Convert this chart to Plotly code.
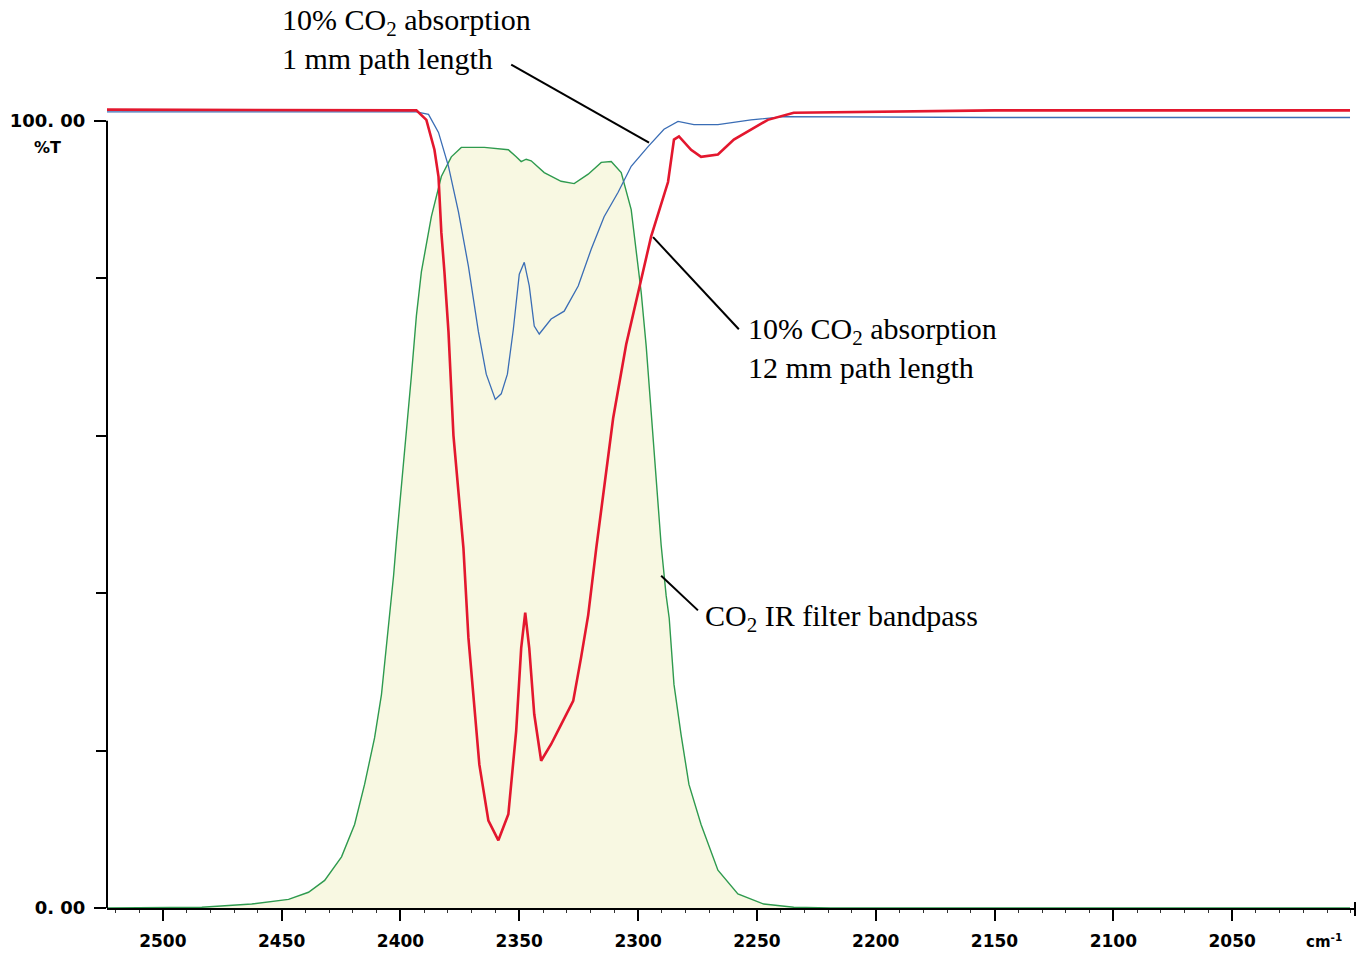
import plotly.graph_objects as go

# ---- data (wavenumber cm^-1, %T) ----
wn_12mm = [2523.5, 2393.3, 2389.1, 2385.7, 2384.0, 2382.8, 2381.5, 2379.8, 2377.7, 2373.5,
           2371.4, 2369.3, 2366.8, 2363.0, 2358.8, 2354.6, 2351.3, 2349.2, 2347.5, 2345.8,
           2343.7, 2340.8, 2336.6, 2332.4, 2327.3, 2324.0, 2321.0, 2317.6, 2314.3, 2310.5,
           2305.0, 2298.7, 2294.5, 2287.4, 2284.9, 2282.8, 2277.7, 2273.5, 2266.4, 2259.7,
           2245.4, 2234.5, 2150.0, 2000.4]
t_12mm = [101.4, 101.3, 100.1, 96.3, 92.9, 85.8, 80.8, 73.2, 60.0, 45.7,
          34.3, 26.7, 18.2, 11.1, 8.6, 11.9, 22.5, 33.0, 37.5, 33.0,
          24.6, 18.7, 20.8, 23.3, 26.3, 31.8, 37.2, 45.7, 53.3, 62.2,
          71.6, 79.9, 85.3, 92.2, 97.6, 98.0, 96.3, 95.4, 95.7, 97.6,
          100.1, 101.0, 101.3, 101.3]

wn_1mm = [2523.5, 2393.3, 2388.2, 2384.0, 2379.8, 2375.6, 2371.4, 2367.2, 2363.9, 2360.1,
          2357.6, 2355.0, 2352.5, 2350.0, 2347.9, 2345.8, 2343.7, 2341.6, 2336.6, 2331.1,
          2325.2, 2319.7, 2314.3, 2308.4, 2302.9, 2295.8, 2289.1, 2283.2, 2276.5, 2266.4,
          2252.5, 2238.7, 2150.0, 2000.4]
t_1mm = [101.1, 101.1, 100.8, 98.5, 94.2, 88.4, 81.5, 73.2, 67.8, 64.6,
         65.3, 67.8, 73.5, 80.5, 82.0, 79.0, 73.9, 72.9, 74.8, 75.8,
         79.0, 83.7, 87.8, 90.9, 94.2, 96.7, 98.9, 99.9, 99.5, 99.5,
         100.1, 100.5, 100.4, 100.4]

wn_filter = [2523.5, 2483.6, 2462.6, 2447.1, 2438.7, 2431.9, 2424.8, 2419.3, 2415.1, 2410.9,
             2408.0, 2405.0, 2402.9, 2401.7, 2399.6, 2397.5, 2395.4, 2393.3, 2391.2, 2387.0,
             2382.8, 2378.6, 2374.4, 2364.7, 2354.6, 2351.3, 2349.2, 2347.1, 2345.0, 2339.5,
             2332.4, 2326.9, 2321.0, 2315.5, 2311.3, 2307.1, 2302.9, 2298.7, 2296.6, 2294.5,
             2292.4, 2290.3, 2288.2, 2286.9, 2284.9, 2281.9, 2278.6, 2273.5, 2266.4, 2258.0,
             2247.1, 2234.5, 2218.9, 2000.4]
t_filter = [0.0, 0.1, 0.5, 1.1, 2.0, 3.5, 6.5, 10.6, 15.7, 21.6,
            27.1, 35.6, 42.2, 46.6, 53.3, 60.0, 67.6, 75.2, 80.8, 87.8,
            92.9, 95.4, 96.6, 96.6, 96.3, 95.4, 94.8, 95.1, 94.9, 93.4,
            92.3, 92.0, 93.2, 94.7, 94.8, 93.4, 88.7, 78.2, 71.4, 63.0,
            54.6, 46.1, 39.7, 36.8, 28.4, 22.0, 15.7, 10.6, 4.8, 1.8,
            0.5, 0.1, 0.0, 0.0]

x_ticks = [2500, 2450, 2400, 2350, 2300, 2250, 2200, 2150, 2100, 2050]
y_ticks = [0, 100]
y_ticktext = ["0. 00", "100. 00"]

# ---- layout geometry (body margin removed via post_script) ----
W, H = 1366, 961
ML, MR, MT, MB = 105, 11, 10, 50
PLOT_W = W - ML - MR
PLOT_H = H - MT - MB
PX_PER_UNIT = 7.9
y_top = PLOT_H / PX_PER_UNIT
x_left, x_right = 2523.5, 1998.3

fig = go.Figure()

fig.add_trace(go.Scatter(
    x=wn_filter, y=t_filter, mode="lines", fill="tozeroy",
    fillcolor="#F8F8E2", line=dict(color="#2E9A4E", width=1.4),
    name="CO2 IR filter bandpass", showlegend=False, cliponaxis=False))
fig.add_trace(go.Scatter(
    x=wn_1mm, y=t_1mm, mode="lines", line=dict(color="#3A6DB5", width=1.3),
    name="1 mm", showlegend=False))
fig.add_trace(go.Scatter(
    x=wn_12mm, y=t_12mm, mode="lines", line=dict(color="#E3172E", width=2.6),
    name="12 mm", showlegend=False))

serif = "Liberation Serif, Times New Roman, serif"
label_font = dict(family=serif, size=30, color="black")

annotations = [
    dict(x=2450.8, y=110.4, text="10% CO<sub>2</sub> absorption<br>1 mm path length"),
    dict(x=2254.6, y=71.1, text="10% CO<sub>2</sub> absorption<br>12 mm path length"),
    dict(x=2272.7, y=36.8, text="CO<sub>2</sub> IR filter bandpass"),
]
for a in annotations:
    a.update(xref="x", yref="y", xanchor="left", yanchor="middle", showarrow=False,
             align="left", font=label_font)

bold = dict(family="DejaVu Sans", size=17, color="black", weight="bold")


def px_x(p):
    return (p - ML) / PLOT_W


def px_y(p):
    return (H - MB - p) / PLOT_H


annotations += [
    dict(xref="paper", yref="paper", x=px_x(45), y=px_y(148), text="%T", showarrow=False,
         xanchor="center", yanchor="middle", font=dict(bold, size=16)),
    dict(xref="paper", yref="paper", x=px_x(1324), y=px_y(944), text="cm<sup>-1</sup>",
         showarrow=False, xanchor="center", yanchor="middle", font=dict(bold, size=15)),
]

shapes = [
    # leader lines
    dict(type="line", xref="x", yref="y", x0=2353.4, y0=107.1, x1=2295.4, y1=97.2,
         line=dict(color="black", width=2)),
    dict(type="line", xref="x", yref="y", x0=2293.7, y0=85.2, x1=2257.6, y1=73.5,
         line=dict(color="black", width=2)),
    dict(type="line", xref="x", yref="y", x0=2290.3, y0=42.2, x1=2274.8, y1=37.8,
         line=dict(color="black", width=2)),
    # y axis line (0..100 only)
    dict(type="line", xref="paper", yref="y", x0=0, y0=0, x1=0, y1=100,
         line=dict(color="black", width=2)),
    # right end marker of x axis
    dict(type="line", xref="paper", yref="paper", x0=1, x1=1,
         y0=-8 / PLOT_H, y1=6 / PLOT_H,
         line=dict(color="black", width=2)),
]

fig.update_layout(
    width=W, height=H,
    margin=dict(l=ML, r=MR, t=MT, b=MB),
    paper_bgcolor="white", plot_bgcolor="white",
    showlegend=False,
    annotations=annotations, shapes=shapes,
    xaxis=dict(range=[x_left, x_right], showgrid=False, zeroline=False,
               showline=True, linecolor="black", linewidth=2,
               ticks="outside", ticklen=11, tickwidth=2, tickcolor="black",
               tickvals=x_ticks, ticktext=[str(v) for v in x_ticks],
               tickfont=bold, ticklabelstandoff=6,
               minor=dict(ticks="outside", ticklen=3, tickwidth=1, tickcolor="#333",
                          dtick=10)),
    yaxis=dict(range=[0, y_top], showgrid=False, zeroline=False, showline=False,
               ticks="outside", ticklen=12, tickwidth=2, tickcolor="black",
               tickvals=y_ticks, ticktext=y_ticktext,
               tickfont=dict(bold, size=18), ticklabelstandoff=5,
               minor=dict(ticks="outside", ticklen=10, tickwidth=2, tickcolor="black",
                          tick0=0, dtick=20)),
)

fig.write_html(
    "out.html",
    config={"displayModeBar": False},
    post_script="document.body.style.margin='0';document.body.style.overflow='hidden';",
)
